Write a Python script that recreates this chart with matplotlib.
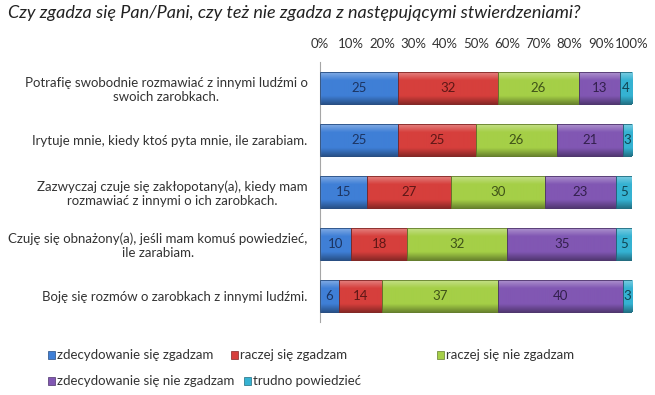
import numpy as np
import matplotlib
matplotlib.use('Agg')
import matplotlib.pyplot as plt
from matplotlib.colors import LinearSegmentedColormap, to_rgb
from matplotlib.patches import Rectangle

plt.rcParams['font.family'] = ['Lato', 'DejaVu Sans']

# ── DATA ─────────────────────────────────────────────────────────────────────
title = 'Czy zgadza się Pan/Pani, czy też nie zgadza z następującymi stwierdzeniami?'

statements = [
    'Potrafię swobodnie rozmawiać z innymi ludźmi o\nswoich zarobkach.',
    'Irytuje mnie, kiedy ktoś pyta mnie, ile zarabiam.',
    'Zazwyczaj czuje się zakłopotany(a), kiedy mam\nrozmawiać z innymi o ich zarobkach.',
    'Czuję się obnażony(a), jeśli mam komuś powiedzieć,\nile zarabiam.',
    'Boję się rozmów o zarobkach z innymi ludźmi.',
]

answers = ['zdecydowanie się zgadzam', 'raczej się zgadzam', 'raczej się nie zgadzam',
           'zdecydowanie się nie zgadzam', 'trudno powiedzieć']

strongly_agree = [25, 25, 15, 10, 6]
rather_agree = [32, 25, 27, 18, 14]
rather_disagree = [26, 26, 30, 32, 37]
strongly_disagree = [13, 21, 23, 35, 40]
hard_to_say = [4, 3, 5, 5, 3]

tick_values = np.arange(0, 101, 10)
tick_labels = [f'{t}%' for t in tick_values]

# ── STYLE ────────────────────────────────────────────────────────────────────
colors = ['#3f7fd6', '#d63f3c', '#a5cf47', '#8157b3', '#35b2d2']
text_colors = ['#1c3461', '#5e1716', '#3f5218', '#33204d', '#104452']

series = [strongly_agree, rather_agree, rather_disagree, strongly_disagree, hard_to_say]

fig = plt.figure(figsize=(6.55, 3.95), dpi=100)
ax = fig.add_axes([320 / 655, 1 - 322 / 395, 312 / 655, 260 / 395])

y = np.arange(len(statements))
left = np.zeros(len(statements))


def shade(c, f):
    r = np.array(to_rgb(c))
    return tuple(np.clip(r * f, 0, 1)) if f < 1 else tuple(r + (1 - r) * (f - 1))


for i, vals in enumerate(series):
    bars = ax.barh(y, vals, left=left, height=0.6, color=colors[i],
                   edgecolor=shade(colors[i], 0.6), linewidth=0.6, label=answers[i])
    cmap = LinearSegmentedColormap.from_list(
        f'g{i}', [shade(colors[i], 1.35), colors[i], colors[i], colors[i], shade(colors[i], 0.65)])
    grad = np.linspace(0, 1, 64).reshape(-1, 1)
    for bar, v, l in zip(bars, vals, left):
        x0, y0 = bar.get_x(), bar.get_y()
        w, h = bar.get_width(), bar.get_height()
        im = ax.imshow(grad, cmap=cmap, aspect='auto', extent=(x0, x0 + w, y0 + h, y0),
                       zorder=2, interpolation='bilinear')
        im.set_clip_path(bar)
        ax.add_patch(Rectangle((x0, y0), w, h, fill=False,
                               edgecolor=shade(colors[i], 0.6), linewidth=0.6, zorder=3))
        ax.text(l + v / 2, bar.get_y() + h / 2, str(v), ha='center', va='center',
                fontsize=9.5, color=text_colors[i], zorder=4)
    left += np.array(vals)

ax.set_xlim(0, 100)
ax.set_ylim(len(statements) - 0.5, -0.5)
ax.set_xticks(tick_values)
ax.set_xticklabels(tick_labels)
ax.xaxis.tick_top()
ax.tick_params(axis='x', length=0, pad=9, labelsize=9.5, colors='#333333')
ax.set_yticks(y)
ax.set_yticklabels(statements, multialignment='center', fontsize=9.5, color='#333333')
ax.tick_params(axis='y', length=0, pad=9)
for s in ['top', 'right', 'bottom']:
    ax.spines[s].set_visible(False)
ax.spines['left'].set_color('#a6a6a6')
ax.spines['left'].set_linewidth(0.8)

fig.text(8 / 655, 1 - 13 / 395, title, fontsize=13, style='italic', color='#222222',
         va='center', ha='left')

# ── LEGEND (manual placement, irregular layout like the original) ───────────
legend_pos = [(48, 355), (231, 355), (437, 355), (48, 381), (244, 381)]
for i, (lx, ly) in enumerate(legend_pos):
    fig.patches.append(Rectangle((lx / 655, 1 - (ly + 4) / 395), 7 / 655, 8 / 395,
                                 transform=fig.transFigure, facecolor=colors[i],
                                 edgecolor=shade(colors[i], 0.6), linewidth=0.5))
    fig.text((lx + 9) / 655, 1 - ly / 395, answers[i], fontsize=9.5, color='#333333',
             va='center', ha='left')

fig.savefig('out.png', dpi=100)
